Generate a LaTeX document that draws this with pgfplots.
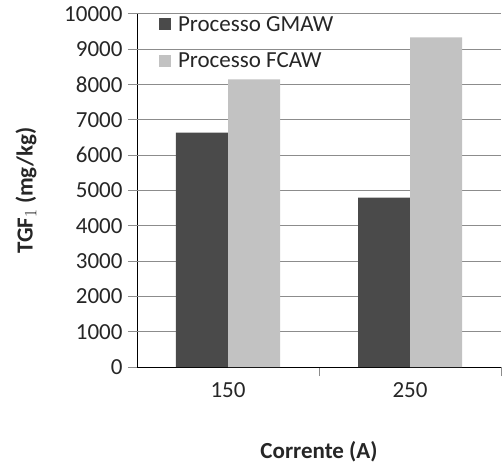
\documentclass[border=0pt]{standalone}
\usepackage{fontspec}
\setmainfont{Carlito}
\usepackage{pgfplots}
\pgfplotsset{compat=1.18}
\definecolor{darkbar}{HTML}{4A4A4A}
\definecolor{lightbar}{HTML}{C2C2C2}
\definecolor{gridc}{HTML}{8C8C8C}
\begin{document}
\begin{tikzpicture}
\path[use as bounding box] (0,0) rectangle (502bp,472bp);
\begin{axis}[
  at={(137bp,105bp)}, anchor=south west,
  scale only axis,
  width=364bp, height=353bp,
  clip=false,
  xmin=-0.5, xmax=1.5,
  ymin=0, ymax=10000,
  ytick={0,1000,...,10000},
  scaled y ticks=false,
  ymajorgrids=true,
  grid style={color=gridc, line width=1pt},
  xtick={0.5,1.5},
  xticklabels={},
  extra x ticks={0,1},
  extra x tick labels={150,250},
  extra x tick style={major tick length=0pt, grid=none},
  tick align=outside,
  every tick/.style={draw=gridc, line width=1pt},
  major tick length=9bp,
  axis x line*=bottom,
  axis y line*=left,
  every inner x axis line/.style={draw=gridc, line width=1pt, -},
  every inner y axis line/.style={draw=gridc, line width=1pt, -},
  /pgf/number format/1000 sep={},
  /pgf/number format/assume math mode=true,
  tick label style={font=\fontsize{23bp}{27bp}\selectfont, black!85},
  yticklabel style={xshift=-2bp},
  xticklabel style={yshift=-12bp},
  xlabel={\bfseries Corrente (A)},
  ylabel={\bfseries TGF$_1$ (mg/kg)},
  label style={font=\fontsize{23bp}{27bp}\selectfont},
  xlabel style={at={(axis description cs:0.5,0)}, anchor=center, yshift=-85bp, black!85},
  ylabel style={at={(axis description cs:-0.305,0.5)}, anchor=center, black!85},
  legend style={draw=none, fill=none, at={(axis description cs:0.06,1)}, anchor=north west,
    font=\fontsize{23bp}{27bp}\selectfont, row sep=16bp, inner sep=0pt,
    legend cell align=left, text=black!85},
  legend image code/.code={\fill[#1] (0bp,-6bp) rectangle (12bp,6bp);},
]
\pgfplotsinvokeforeach{1000,2000,3000,4000,5000,6000,7000,8000,9000,10000}{
  \addplot[color=gridc, line width=1pt, mark=none, forget plot]
    coordinates {(-0.5,#1) (1.5,#1)};
}
\addplot[ybar, bar width=52bp, bar shift=-26bp, fill=darkbar, draw=none] coordinates {(0,6640) (1,4800)};
\addplot[ybar, bar width=52bp, bar shift=26bp, fill=lightbar, draw=none] coordinates {(0,8150) (1,9340)};
\legend{\hspace{5bp}Processo GMAW, \hspace{5bp}Processo FCAW}
\end{axis}
\end{tikzpicture}
\end{document}
